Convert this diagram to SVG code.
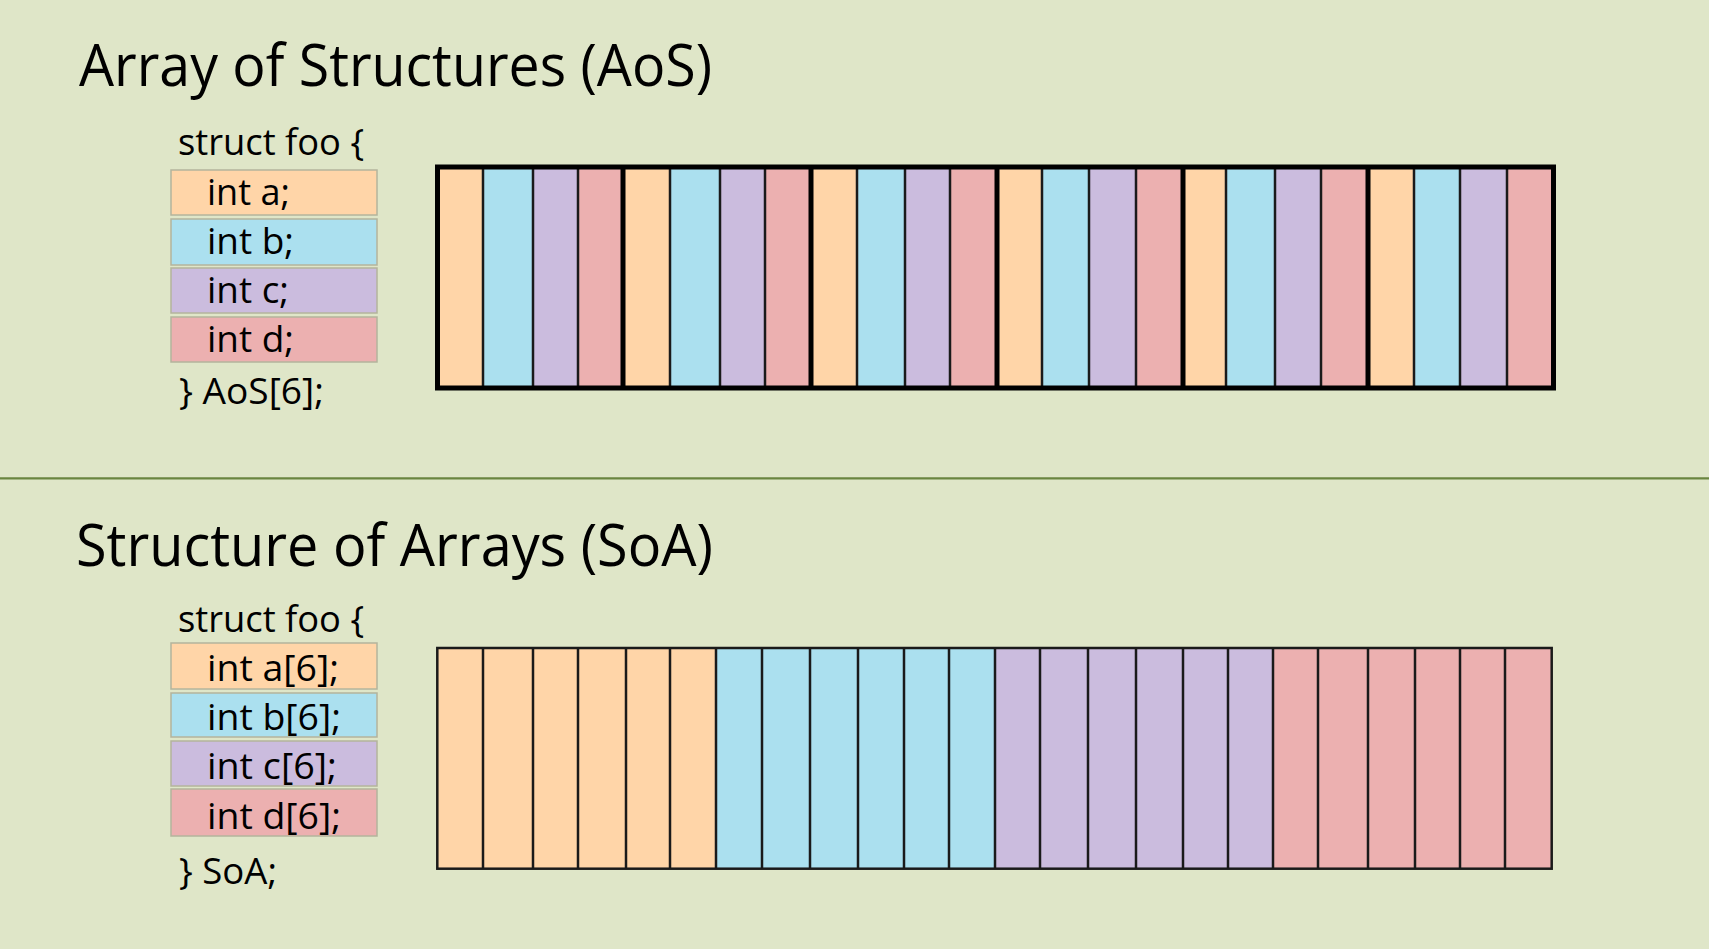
<svg xmlns="http://www.w3.org/2000/svg" width="1709" height="949" viewBox="0 0 1709 949">
  <style>
    .bg { fill: #dfe6c8; }
    .title { font-family: "Open Sans", "Liberation Sans", sans-serif; font-size: 58px; fill: #000; }
    .code { font-family: "Open Sans", "Liberation Sans", sans-serif; font-size: 37px; fill: #000; }
    .fa { fill: #ffd5a8; }
    .fb { fill: #abe0ef; }
    .fc { fill: #cbbcde; }
    .fd { fill: #ecb0b0; }
    .field { stroke: #b4b49c; stroke-width: 1.5; }
    .thin { stroke: #1a1a1a; stroke-width: 2.5; }
    .thick { stroke: #000; stroke-width: 5; }
    .frame-thin { fill: none; stroke: #1a1a1a; stroke-width: 2.5; }
    .frame-thick { fill: none; stroke: #000; stroke-width: 5; }
  </style>

  <rect class="bg" x="0" y="0" width="1709" height="949"/>

  <!-- section divider -->
  <line x1="0" y1="478.3" x2="1709" y2="478.3" stroke="#6a8540" stroke-width="2.2"/>

  <!-- ===== Array of Structures ===== -->
  <g id="aos-title">
    <text class="title" x="79" y="86" textLength="633" lengthAdjust="spacingAndGlyphs">Array of Structures (AoS)</text>
  </g>

  <g id="aos-struct">
    <text class="code" x="178" y="155" textLength="186" lengthAdjust="spacingAndGlyphs">struct foo {</text>
    <rect class="fa field" x="171" y="170" width="206" height="45"/>
    <rect class="fb field" x="171" y="219" width="206" height="46"/>
    <rect class="fc field" x="171" y="268" width="206" height="45"/>
    <rect class="fd field" x="171" y="317" width="206" height="45"/>
    <text class="code" x="207" y="205" textLength="83" lengthAdjust="spacingAndGlyphs">int a;</text>
    <text class="code" x="207" y="254" textLength="87" lengthAdjust="spacingAndGlyphs">int b;</text>
    <text class="code" x="207" y="303" textLength="82" lengthAdjust="spacingAndGlyphs">int c;</text>
    <text class="code" x="207" y="352" textLength="87" lengthAdjust="spacingAndGlyphs">int d;</text>
    <text class="code" x="179" y="404" textLength="145" lengthAdjust="spacingAndGlyphs">} AoS[6];</text>
  </g>

  <g id="aos-array">
    <!-- struct 1 -->
    <rect class="fa" x="437" y="167" width="46" height="221"/>
    <rect class="fb" x="483" y="167" width="50" height="221"/>
    <rect class="fc" x="533" y="167" width="45" height="221"/>
    <rect class="fd" x="578" y="167" width="45" height="221"/>
    <!-- struct 2 -->
    <rect class="fa" x="623" y="167" width="47" height="221"/>
    <rect class="fb" x="670" y="167" width="50" height="221"/>
    <rect class="fc" x="720" y="167" width="45" height="221"/>
    <rect class="fd" x="765" y="167" width="46" height="221"/>
    <!-- struct 3 -->
    <rect class="fa" x="811" y="167" width="46" height="221"/>
    <rect class="fb" x="857" y="167" width="48" height="221"/>
    <rect class="fc" x="905" y="167" width="45" height="221"/>
    <rect class="fd" x="950" y="167" width="47" height="221"/>
    <!-- struct 4 -->
    <rect class="fa" x="997" y="167" width="45" height="221"/>
    <rect class="fb" x="1042" y="167" width="47" height="221"/>
    <rect class="fc" x="1089" y="167" width="47" height="221"/>
    <rect class="fd" x="1136" y="167" width="47" height="221"/>
    <!-- struct 5 -->
    <rect class="fa" x="1183" y="167" width="43" height="221"/>
    <rect class="fb" x="1226" y="167" width="49" height="221"/>
    <rect class="fc" x="1275" y="167" width="46" height="221"/>
    <rect class="fd" x="1321" y="167" width="47" height="221"/>
    <!-- struct 6 -->
    <rect class="fa" x="1368" y="167" width="46" height="221"/>
    <rect class="fb" x="1414" y="167" width="46" height="221"/>
    <rect class="fc" x="1460" y="167" width="47" height="221"/>
    <rect class="fd" x="1507" y="167" width="46" height="221"/>

    <!-- field separators -->
    <g class="thin">
      <line x1="483" y1="167" x2="483" y2="388"/>
      <line x1="533" y1="167" x2="533" y2="388"/>
      <line x1="578" y1="167" x2="578" y2="388"/>
      <line x1="670" y1="167" x2="670" y2="388"/>
      <line x1="720" y1="167" x2="720" y2="388"/>
      <line x1="765" y1="167" x2="765" y2="388"/>
      <line x1="857" y1="167" x2="857" y2="388"/>
      <line x1="905" y1="167" x2="905" y2="388"/>
      <line x1="950" y1="167" x2="950" y2="388"/>
      <line x1="1042" y1="167" x2="1042" y2="388"/>
      <line x1="1089" y1="167" x2="1089" y2="388"/>
      <line x1="1136" y1="167" x2="1136" y2="388"/>
      <line x1="1226" y1="167" x2="1226" y2="388"/>
      <line x1="1275" y1="167" x2="1275" y2="388"/>
      <line x1="1321" y1="167" x2="1321" y2="388"/>
      <line x1="1414" y1="167" x2="1414" y2="388"/>
      <line x1="1460" y1="167" x2="1460" y2="388"/>
      <line x1="1507" y1="167" x2="1507" y2="388"/>
    </g>
    <!-- struct boundaries -->
    <g class="thick">
      <line x1="623" y1="167" x2="623" y2="388"/>
      <line x1="811" y1="167" x2="811" y2="388"/>
      <line x1="997" y1="167" x2="997" y2="388"/>
      <line x1="1183" y1="167" x2="1183" y2="388"/>
      <line x1="1368" y1="167" x2="1368" y2="388"/>
    </g>
    <rect class="frame-thick" x="437.5" y="167" width="1116" height="221"/>
  </g>

  <!-- ===== Structure of Arrays ===== -->
  <g id="soa-title">
    <text class="title" x="76" y="566" textLength="637" lengthAdjust="spacingAndGlyphs">Structure of Arrays (SoA)</text>
  </g>

  <g id="soa-struct">
    <text class="code" x="178" y="632" textLength="186" lengthAdjust="spacingAndGlyphs">struct foo {</text>
    <rect class="fa field" x="171" y="643" width="206" height="46"/>
    <rect class="fb field" x="171" y="693" width="206" height="44"/>
    <rect class="fc field" x="171" y="741" width="206" height="45"/>
    <rect class="fd field" x="171" y="789" width="206" height="47"/>
    <text class="code" x="207" y="681" textLength="132" lengthAdjust="spacingAndGlyphs">int a[6];</text>
    <text class="code" x="207" y="730" textLength="134" lengthAdjust="spacingAndGlyphs">int b[6];</text>
    <text class="code" x="207" y="779" textLength="130" lengthAdjust="spacingAndGlyphs">int c[6];</text>
    <text class="code" x="207" y="829" textLength="134" lengthAdjust="spacingAndGlyphs">int d[6];</text>
    <text class="code" x="179" y="884" textLength="98" lengthAdjust="spacingAndGlyphs">} SoA;</text>
  </g>

  <g id="soa-array">
    <rect class="fa" x="437" y="648" width="279" height="221"/>
    <rect class="fb" x="716" y="648" width="279" height="221"/>
    <rect class="fc" x="995" y="648" width="278" height="221"/>
    <rect class="fd" x="1273" y="648" width="279" height="221"/>
    <g class="thin">
      <line x1="483" y1="648" x2="483" y2="869"/>
      <line x1="533" y1="648" x2="533" y2="869"/>
      <line x1="578" y1="648" x2="578" y2="869"/>
      <line x1="626" y1="648" x2="626" y2="869"/>
      <line x1="670" y1="648" x2="670" y2="869"/>
      <line x1="716" y1="648" x2="716" y2="869"/>
      <line x1="762" y1="648" x2="762" y2="869"/>
      <line x1="810" y1="648" x2="810" y2="869"/>
      <line x1="858" y1="648" x2="858" y2="869"/>
      <line x1="904" y1="648" x2="904" y2="869"/>
      <line x1="949" y1="648" x2="949" y2="869"/>
      <line x1="995" y1="648" x2="995" y2="869"/>
      <line x1="1040" y1="648" x2="1040" y2="869"/>
      <line x1="1088" y1="648" x2="1088" y2="869"/>
      <line x1="1136" y1="648" x2="1136" y2="869"/>
      <line x1="1183" y1="648" x2="1183" y2="869"/>
      <line x1="1228" y1="648" x2="1228" y2="869"/>
      <line x1="1273" y1="648" x2="1273" y2="869"/>
      <line x1="1318" y1="648" x2="1318" y2="869"/>
      <line x1="1368" y1="648" x2="1368" y2="869"/>
      <line x1="1415" y1="648" x2="1415" y2="869"/>
      <line x1="1460" y1="648" x2="1460" y2="869"/>
      <line x1="1505" y1="648" x2="1505" y2="869"/>
    </g>
    <rect class="frame-thin" x="437.3" y="648" width="1114.4" height="220.7"/>
  </g>
</svg>
